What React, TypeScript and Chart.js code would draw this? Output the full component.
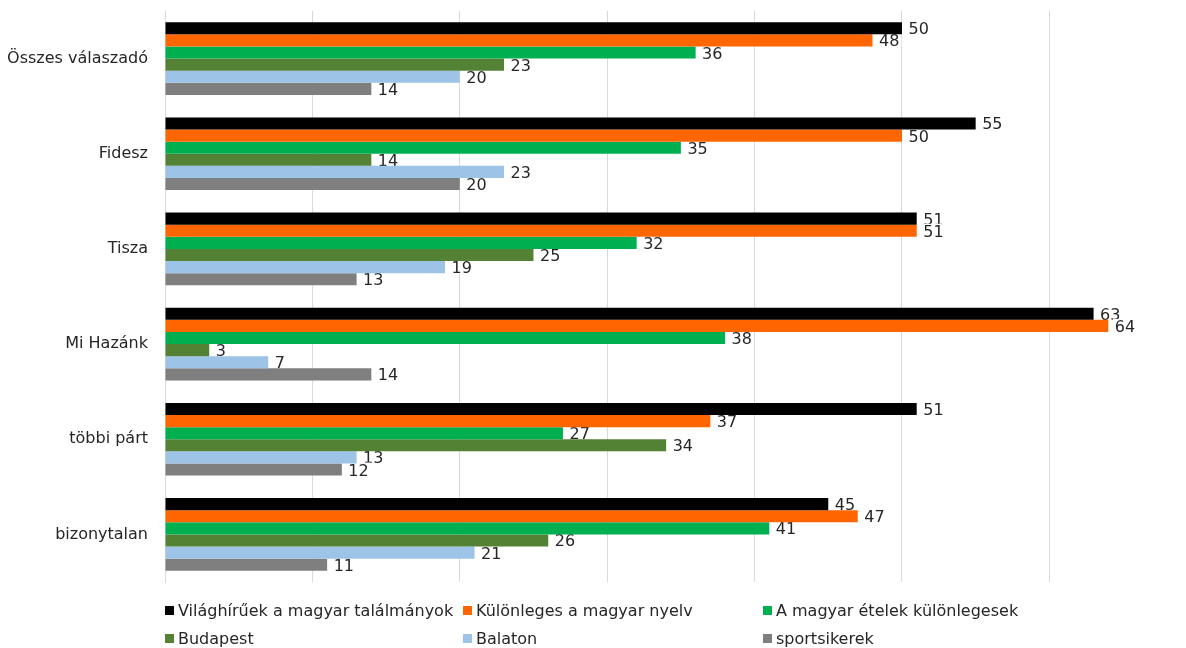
import React, { useEffect, useRef } from "react";
import { Chart, registerables } from "chart.js";

Chart.register(...registerables);

const categories = ["Összes válaszadó", "Fidesz", "Tisza", "Mi Hazánk", "többi párt", "bizonytalan"];
const seriesNames = [
  "Világhírűek a magyar találmányok",
  "Különleges a magyar nyelv",
  "A magyar ételek különlegesek",
  "Budapest",
  "Balaton",
  "sportsikerek",
];
const seriesColors = ["#000000", "#FF6600", "#00B050", "#548235", "#9DC3E6", "#7F7F7F"];
const vilaghiruek = [50, 55, 51, 63, 51, 45];
const kulonleges = [48, 50, 51, 64, 37, 47];
const etelek = [36, 35, 32, 38, 27, 41];
const budapest = [23, 14, 25, 3, 34, 26];
const balaton = [20, 23, 19, 7, 13, 21];
const sportsikerek = [14, 20, 13, 14, 12, 11];
const seriesValues = [vilaghiruek, kulonleges, etelek, budapest, balaton, sportsikerek];
const xMax = 69.27;
const xStep = 10;

const FONT = "'DejaVu Sans', sans-serif";
const TEXT = "#262626";

const legendCols = [165, 463, 763];
const legendRows = [610, 638];

const valueLabels = {
  id: "valueLabels",
  beforeDatasetsDraw(chart: any) {
    const ctx = chart.ctx;
    ctx.save();
    ctx.font = `16px ${FONT}`;
    ctx.textBaseline = "alphabetic";
    ctx.textAlign = "left";
    chart.data.datasets.forEach((ds: any, i: number) => {
      const meta = chart.getDatasetMeta(i);
      meta.data.forEach((el: any, j: number) => {
        const txt = String(ds.data[j]);
        const w = ctx.measureText(txt).width;
        const x = el.x + 6.5;
        const y = el.y + 6;
        ctx.fillStyle = "#ffffff";
        ctx.fillRect(x - 2, el.y - 7, w + 4, 14);
        ctx.fillStyle = TEXT;
        ctx.fillText(txt, x, y);
      });
    });
    ctx.restore();
  },
};

export default function App() {
  const ref = useRef<HTMLCanvasElement | null>(null);

  useEffect(() => {
    if (!ref.current) return;
    const chart = new Chart(ref.current, {
      type: "bar",
      data: {
        labels: categories,
        datasets: seriesNames.map((name, i) => ({
          label: name,
          data: seriesValues[i],
          backgroundColor: seriesColors[i],
          borderWidth: 0,
          categoryPercentage: 0.764,
          barPercentage: 1,
        })),
      },
      options: {
        indexAxis: "y",
        animation: false,
        responsive: false,
        devicePixelRatio: 1,
        layout: { padding: { left: 0, right: 0, top: 11, bottom: 66 } },
        plugins: {
          legend: { display: false },
          tooltip: { enabled: false },
        },
        scales: {
          x: {
            min: 0,
            max: xMax,
            ticks: { display: false, stepSize: xStep },
            afterBuildTicks: (scale: any) => {
              scale.ticks = scale.ticks.filter((t: any) => Math.abs(t.value % xStep) < 1e-6);
            },
            afterFit: (scale: any) => {
              scale.height = 0;
              scale.paddingLeft = 0;
              scale.paddingRight = 0;
            },
            grid: { color: "#D9D9D9", lineWidth: 1, drawTicks: false },
            border: { display: false },
          },
          y: {
            afterFit: (scale: any) => {
              scale.width = 165;
              scale.paddingTop = 0;
              scale.paddingBottom = 0;
            },
            ticks: {
              font: { family: FONT, size: 16 },
              color: TEXT,
              padding: 17,
            },
            grid: { display: false, drawTicks: false },
            border: { display: true, color: "#D9D9D9", width: 1 },
          },
        },
      },
      plugins: [valueLabels],
    } as any);
    return () => chart.destroy();
  }, []);

  return (
    <div style={{ position: "absolute", left: 0, top: 0, width: 1186, height: 648, background: "#fff" }}>
      <canvas ref={ref} width={1186} height={648} style={{ position: "absolute", left: 0, top: 0 }} />
      {seriesNames.map((name, i) => {
        const col = legendCols[i % 3];
        const row = legendRows[Math.floor(i / 3)];
        return (
          <div
            key={name}
            style={{
              position: "absolute",
              left: col,
              top: row - 10,
              height: 20,
              display: "flex",
              alignItems: "center",
              fontFamily: FONT,
              fontSize: 16,
              color: TEXT,
              whiteSpace: "nowrap",
            }}
          >
            <span style={{ display: "inline-block", width: 9, height: 9, background: seriesColors[i], marginRight: 4 }} />
            <span>{name}</span>
          </div>
        );
      })}
    </div>
  );
}
